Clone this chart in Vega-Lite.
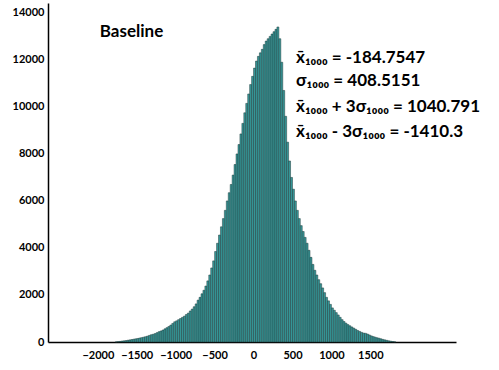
{
  "$schema": "https://vega.github.io/schema/vega-lite/v6.json",
  "width": 408,
  "height": 339,
  "autosize": {"type": "none"},
  "padding": {"left": 48, "top": 3, "right": 43, "bottom": 28},
  "background": "white",
  "config": {"view": {"stroke": null}, "font": "Lato"},
  "datasets": {
    "hist": [
      {"lo":-1775,"hi":-1750,"c":5},{"lo":-1750,"hi":-1725,"c":15},{"lo":-1725,"hi":-1700,"c":25},{"lo":-1700,"hi":-1675,"c":40},
      {"lo":-1675,"hi":-1650,"c":50},{"lo":-1650,"hi":-1625,"c":60},{"lo":-1625,"hi":-1600,"c":75},{"lo":-1600,"hi":-1575,"c":90},
      {"lo":-1575,"hi":-1550,"c":105},{"lo":-1550,"hi":-1525,"c":120},{"lo":-1525,"hi":-1500,"c":135},{"lo":-1500,"hi":-1475,"c":150},
      {"lo":-1475,"hi":-1450,"c":170},{"lo":-1450,"hi":-1425,"c":185},{"lo":-1425,"hi":-1400,"c":205},{"lo":-1400,"hi":-1375,"c":225},
      {"lo":-1375,"hi":-1350,"c":250},{"lo":-1350,"hi":-1325,"c":280},{"lo":-1325,"hi":-1300,"c":310},{"lo":-1300,"hi":-1275,"c":330},
      {"lo":-1275,"hi":-1250,"c":360},{"lo":-1250,"hi":-1225,"c":400},{"lo":-1225,"hi":-1200,"c":440},{"lo":-1200,"hi":-1175,"c":470},
      {"lo":-1175,"hi":-1150,"c":510},{"lo":-1150,"hi":-1125,"c":560},{"lo":-1125,"hi":-1100,"c":610},{"lo":-1100,"hi":-1075,"c":660},
      {"lo":-1075,"hi":-1050,"c":720},{"lo":-1050,"hi":-1025,"c":790},{"lo":-1025,"hi":-1000,"c":860},{"lo":-1000,"hi":-975,"c":900},
      {"lo":-975,"hi":-950,"c":950},{"lo":-950,"hi":-925,"c":1000},{"lo":-925,"hi":-900,"c":1050},{"lo":-900,"hi":-875,"c":1100},
      {"lo":-875,"hi":-850,"c":1170},{"lo":-850,"hi":-825,"c":1230},{"lo":-825,"hi":-800,"c":1320},{"lo":-800,"hi":-775,"c":1400},
      {"lo":-775,"hi":-750,"c":1500},{"lo":-750,"hi":-725,"c":1620},{"lo":-725,"hi":-700,"c":1780},{"lo":-700,"hi":-675,"c":1900},
      {"lo":-675,"hi":-650,"c":2050},{"lo":-650,"hi":-625,"c":2200},{"lo":-625,"hi":-600,"c":2380},{"lo":-600,"hi":-575,"c":2600},
      {"lo":-575,"hi":-550,"c":2850},{"lo":-550,"hi":-525,"c":3150},{"lo":-525,"hi":-500,"c":3450},{"lo":-500,"hi":-475,"c":3850},
      {"lo":-475,"hi":-450,"c":4200},{"lo":-450,"hi":-425,"c":4550},{"lo":-425,"hi":-400,"c":4900},{"lo":-400,"hi":-375,"c":5250},
      {"lo":-375,"hi":-350,"c":5600},{"lo":-350,"hi":-325,"c":6000},{"lo":-325,"hi":-300,"c":6350},{"lo":-300,"hi":-275,"c":6700},
      {"lo":-275,"hi":-250,"c":7100},{"lo":-250,"hi":-225,"c":7550},{"lo":-225,"hi":-200,"c":8000},{"lo":-200,"hi":-175,"c":8400},
      {"lo":-175,"hi":-150,"c":8850},{"lo":-150,"hi":-125,"c":9300},{"lo":-125,"hi":-100,"c":9750},{"lo":-100,"hi":-75,"c":10150},
      {"lo":-75,"hi":-50,"c":10550},{"lo":-50,"hi":-25,"c":10950},{"lo":-25,"hi":0,"c":11300},{"lo":0,"hi":25,"c":11650},
      {"lo":25,"hi":50,"c":11950},{"lo":50,"hi":75,"c":12150},{"lo":75,"hi":100,"c":12300},{"lo":100,"hi":125,"c":12450},
      {"lo":125,"hi":150,"c":12650},{"lo":150,"hi":175,"c":12800},{"lo":175,"hi":200,"c":12900},{"lo":200,"hi":225,"c":13000},
      {"lo":225,"hi":250,"c":13100},{"lo":250,"hi":275,"c":13200},{"lo":275,"hi":300,"c":13300},{"lo":300,"hi":325,"c":13400},
      {"lo":325,"hi":350,"c":12900},{"lo":350,"hi":375,"c":11900},{"lo":375,"hi":400,"c":10700},{"lo":400,"hi":425,"c":9600},
      {"lo":425,"hi":450,"c":8500},{"lo":450,"hi":475,"c":7700},{"lo":475,"hi":500,"c":7000},{"lo":500,"hi":525,"c":6500},
      {"lo":525,"hi":550,"c":6000},{"lo":550,"hi":575,"c":5600},{"lo":575,"hi":600,"c":5250},{"lo":600,"hi":625,"c":4950},
      {"lo":625,"hi":650,"c":4700},{"lo":650,"hi":675,"c":4450},{"lo":675,"hi":700,"c":4200},{"lo":700,"hi":725,"c":3900},
      {"lo":725,"hi":750,"c":3600},{"lo":750,"hi":775,"c":3300},{"lo":775,"hi":800,"c":3050},{"lo":800,"hi":825,"c":2850},
      {"lo":825,"hi":850,"c":2650},{"lo":850,"hi":875,"c":2480},{"lo":875,"hi":900,"c":2300},{"lo":900,"hi":925,"c":2100},
      {"lo":925,"hi":950,"c":1900},{"lo":950,"hi":975,"c":1750},{"lo":975,"hi":1000,"c":1600},{"lo":1000,"hi":1025,"c":1450},
      {"lo":1025,"hi":1050,"c":1350},{"lo":1050,"hi":1075,"c":1250},{"lo":1075,"hi":1100,"c":1150},{"lo":1100,"hi":1125,"c":1050},
      {"lo":1125,"hi":1150,"c":950},{"lo":1150,"hi":1175,"c":870},{"lo":1175,"hi":1200,"c":800},{"lo":1200,"hi":1225,"c":740},
      {"lo":1225,"hi":1250,"c":690},{"lo":1250,"hi":1275,"c":640},{"lo":1275,"hi":1300,"c":590},{"lo":1300,"hi":1325,"c":540},
      {"lo":1325,"hi":1350,"c":490},{"lo":1350,"hi":1375,"c":450},{"lo":1375,"hi":1400,"c":410},{"lo":1400,"hi":1425,"c":380},
      {"lo":1425,"hi":1450,"c":370},{"lo":1450,"hi":1475,"c":340},{"lo":1475,"hi":1500,"c":300},{"lo":1500,"hi":1525,"c":260},
      {"lo":1525,"hi":1550,"c":230},{"lo":1550,"hi":1575,"c":205},{"lo":1575,"hi":1600,"c":180},{"lo":1600,"hi":1625,"c":160},
      {"lo":1625,"hi":1650,"c":135},{"lo":1650,"hi":1675,"c":110},{"lo":1675,"hi":1700,"c":90},{"lo":1700,"hi":1725,"c":70},
      {"lo":1725,"hi":1750,"c":50},{"lo":1750,"hi":1775,"c":35},{"lo":1775,"hi":1800,"c":20},{"lo":1800,"hi":1825,"c":8}
    ],
    "notes": [
      {"x": -1975, "y": 13190, "t": "Baseline"},
      {"x": 546, "y": 12085, "t": "x̄₁₀₀₀ = -184.7547"},
      {"x": 546, "y": 11106, "t": "σ₁₀₀₀ = 408.5151"},
      {"x": 546, "y": 10000, "t": "x̄₁₀₀₀ + 3σ₁₀₀₀ = 1040.791"},
      {"x": 546, "y": 8936, "t": "x̄₁₀₀₀ - 3σ₁₀₀₀ = -1410.3"}
    ]
  },
  "layer": [
    {
      "data": {"name": "hist"},
      "mark": {"type": "bar", "fill": "#37999a", "stroke": "#1e3a3a", "strokeWidth": 0.5},
      "encoding": {
        "x": {"field": "lo", "type": "quantitative",
          "scale": {"domain": [-2640, 2600], "nice": false, "zero": false},
          "axis": {"title": null, "values": [-2000,-1500,-1000,-500,0,500,1000,1500], "grid": false, "ticks": false,
            "domainColor": "black", "domainWidth": 1.5, "labelFont": "Lato", "labelFontWeight": "bold", "labelFontSize": 11,
            "labelColor": "black", "labelPadding": 7, "labelFlush": false, "format": "d"}},
        "x2": {"field": "hi"},
        "y": {"field": "c", "type": "quantitative",
          "scale": {"domain": [0, 14420], "nice": false},
          "axis": {"title": null, "values": [0,2000,4000,6000,8000,10000,12000,14000], "grid": false, "ticks": false,
            "domainColor": "black", "domainWidth": 1.5, "labelFont": "Lato", "labelFontWeight": "bold", "labelFontSize": 11,
            "labelColor": "black", "labelPadding": 4, "format": "d", "labelFlush": false}},
        "y2": {"datum": 0}
      }
    },
    {
      "data": {"name": "notes"},
      "mark": {"type": "text", "align": "left", "baseline": "middle", "font": "Lato", "fontWeight": "bold", "fontSize": 17, "color": "black"},
      "encoding": {
        "x": {"field": "x", "type": "quantitative"},
        "y": {"field": "y", "type": "quantitative"},
        "text": {"field": "t"}
      }
    }
  ]
}
